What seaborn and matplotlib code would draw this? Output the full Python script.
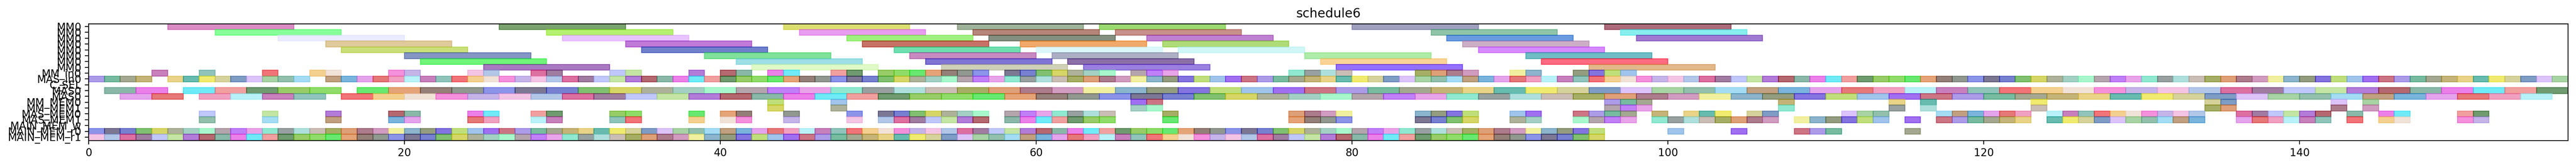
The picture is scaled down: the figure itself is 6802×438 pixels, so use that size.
import numpy as np
import pandas as pd
import matplotlib
matplotlib.use("Agg")
import matplotlib.pyplot as plt
import seaborn as sns
from matplotlib.colors import to_rgb

# ---------------- data ----------------
row_labels = ["MM0"] * 8 + ["MM_in0", "MAS_in0", "C_SEL", "MAS0", "MAS0",
                            "MM_MEM0", "MM_MEM1", "MAS_MEM0", "MAS_MEM1",
                            "MAIN_MEM_w", "MAIN_MEM_r0", "MAIN_MEM_r1"]

# MM0 rows: long operations (duration 8)
mm0_duration = 8
mm0_starts = [
    [5, 26, 44, 55, 64, 80, 96],
    [8, 29, 45, 56, 65, 85, 97],
    [12, 30, 48, 57, 67, 86, 98],
    [15, 34, 49, 59, 68, 87],
    [16, 35, 51, 60, 69, 88],
    [20, 39, 52, 61, 77, 91],
    [21, 41, 53, 62, 78, 92],
    [25, 42, 54, 63, 79, 95],
]
mm0_colors = [
    ["#d98cc4", "#7aa36f", "#dde070", "#9fb39a", "#9ad970", "#9f9fbf", "#ad6b7a"],
    ["#88ff99", "#b5f070", "#e89cf0", "#b5857a", "#c8908a", "#8fc4a8", "#88eeee"],
    ["#ececff", "#e8c4ff", "#a0f080", "#848f80", "#bf80d0", "#6b9be0", "#a07ad0"],
    ["#e0cb9c", "#c07ad8", "#c87264", "#f0aa6a", "#b0dc78", "#ccb0c8"],
    ["#cbdf7a", "#7080cc", "#70e0b0", "#dcf7fa", "#d0f6f8", "#d68aff"],
    ["#8595c4", "#80e29a", "#c78ac0", "#adb0c4", "#b0ecaa", "#70bfc4"],
    ["#70f57a", "#9de0e4", "#7f74d4", "#8b70a8", "#fcd496", "#ff6b80"],
    ["#a878c0", "#e0f9c8", "#cfd0b8", "#9a80e0", "#9470ff", "#e2b78a"],
]

# unit-length operations (duration 1)
mm_in0 = [4, 7, 11, 14, 15, 19, 20, 24, 25, 28, 29, 33, 34, 38, 40, 41, 43, 44,
          47, 48, 50, 51, 52, 53, 54, 55, 56, 58, 59, 60, 61, 62, 63, 64, 66, 67,
          68, 76, 77, 78, 79, 84, 85, 86, 87, 90, 91, 94, 95, 96, 97]
mas_in0_runs = [(0, 3), (5, 13), (15, 156)]          # consecutive occupied slots
c_sel = []
mm_mem0 = [43, 47, 66, 67, 96, 97, 98, 107, 114, 116, 123, 134, 135, 142, 144]
mm_mem1 = [43, 47, 66, 67, 96, 97, 98, 107, 114, 116, 123, 134, 135, 142, 144]
mas_mem0 = [7, 11, 15, 19, 20, 24, 25, 28, 29, 33, 34, 38, 40, 41, 44, 48, 50, 51,
            52, 53, 54, 55, 56, 58, 59, 60, 61, 62, 63, 64, 68, 76, 77, 78, 79, 84,
            85, 86, 87, 90, 91, 94, 95, 96, 97, 99, 101, 102, 103, 105, 106, 111,
            112, 113, 117, 118, 119, 120, 121, 122, 124, 125, 126, 127, 128, 129,
            130, 131, 132, 133, 136, 137, 138, 139, 140, 141, 143, 145, 146, 150, 151]
mas_mem1 = [7, 11, 15, 19, 20, 24, 25, 28, 29, 33, 34, 38, 40, 41, 44, 48, 50, 51,
            52, 53, 54, 55, 56, 58, 59, 60, 61, 62, 63, 64, 68, 76, 77, 78, 79, 84,
            85, 86, 87, 90, 91, 94, 95, 96, 97, 99, 100, 101, 102, 103, 104, 105,
            106, 108, 109, 110, 111, 112, 113, 115, 117, 118, 119, 120, 121, 122,
            124, 125, 126, 127, 128, 129, 130, 131, 132, 133, 136, 137, 138, 139,
            140, 141, 143, 145, 146, 150, 151]
main_mem_w = []
main_mem_r0_runs = [(0, 95), (100, 100), (104, 104), (108, 110), (115, 115)]
main_mem_r1_runs = [(0, 95)]

# MAS0 rows: operations of duration 2
mas0_duration = 2
mas0_a = [1, 3, 6, 8, 10, 12, 14, 17, 19, 21, 23, 25, 27, 29, 31, 33, 35, 37, 39,
          41, 43, 45, 47, 49, 51, 53, 55, 57, 59, 61, 63, 65, 67, 69, 71, 73, 75,
          77, 79, 81, 83, 85, 87, 89, 91, 93, 95, 97, 99, 101, 103, 105, 107, 109,
          111, 113, 115, 117, 119, 121, 123, 125, 127, 129, 131, 133, 135, 137,
          139, 141, 143, 145, 147, 149, 151, 153, 155]
mas0_b = [2, 4, 7, 9, 11, 13, 16, 18, 20, 22, 24, 26, 28, 30, 32, 34, 36, 38, 40,
          42, 44, 46, 48, 50, 52, 54, 56, 58, 60, 62, 64, 66, 68, 70, 72, 74, 76,
          78, 80, 82, 84, 86, 88, 90, 92, 94, 96, 98, 100, 102, 104, 106, 108, 110,
          112, 114, 116, 118, 120, 122, 124, 126, 128, 130, 132, 134, 136, 138,
          140, 142, 144, 146, 148, 150, 152, 154]

# colours of the short operations, as they appear on the chart
unit_palette = [
    "#b3c8e8", "#b0e0dc", "#f0a0c0", "#80c070", "#d6d29c", "#709a70", "#a0c4ec",
    "#dc70a0", "#cbbdb5", "#b8f2f7", "#d6d668", "#7f9cc4", "#98cc68", "#a070f0",
    "#a07ca0", "#a6ae64", "#c880bc", "#aeb39a", "#dcc4fa", "#90dc6a", "#cc7584",
    "#c0c8fa", "#dea078", "#90c4bc", "#a4d0c4", "#a8d4a4", "#68e870", "#ac9ce8",
    "#c4e6a4", "#ad7c8c", "#f27478", "#a8f8cc", "#92c0ac", "#e4a478", "#78bca0",
    "#b27cd8", "#d09cc0", "#f4d090", "#b4a4ac", "#a4dcf4", "#948078", "#a4a890",
    "#b46870", "#f2f0a0", "#f2e2d8", "#c080f8", "#c0a080", "#909890", "#c4b478",
    "#8ab8a8", "#8cb4cc", "#f490dc", "#e8a4e8", "#7ab4dc", "#8c94e8", "#e8d488",
    "#ec80e8", "#949c80", "#c4b4e8", "#90e8d0", "#e4a4ec", "#7c7894", "#68bcb0",
    "#70eaf8", "#8474e0", "#f4c4e4", "#98a0a0", "#e67878", "#7880d0", "#f0ec70",
    "#f2a0a0", "#c0e07c",
]

ALPHA = 0.6


def expand(runs):
    out = []
    for a, b in runs:
        out.extend(range(a, b + 1))
    return out


def base_color(hex_seen):
    # colour that, drawn with ALPHA over white, looks like hex_seen
    rgb = np.array(to_rgb(hex_seen))
    return tuple(np.clip((rgb - (1 - ALPHA)) / ALPHA, 0, 1))


# ---------------- build table ----------------
records = []
for r, (starts, cols) in enumerate(zip(mm0_starts, mm0_colors)):
    for s, c in zip(starts, cols):
        records.append((r, s, mm0_duration, c))

short_rows = {
    8: (mm_in0, 1), 9: (expand(mas_in0_runs), 1), 10: (c_sel, 1),
    11: (mas0_a, mas0_duration), 12: (mas0_b, mas0_duration),
    13: (mm_mem0, 1), 14: (mm_mem1, 1), 15: (mas_mem0, 1), 16: (mas_mem1, 1),
    17: (main_mem_w, 1), 18: (expand(main_mem_r0_runs), 1),
    19: (expand(main_mem_r1_runs), 1),
}
P = len(unit_palette)
for r, (starts, dur) in short_rows.items():
    for j, s in enumerate(starts):
        records.append((r, s, dur, unit_palette[(r * 11 + j * 7) % P]))

df = pd.DataFrame(records, columns=["row", "start", "duration", "seen_color"])

# ---------------- plot ----------------
sns.set_style("ticks")
plt.rcParams.update({
    "font.family": ["DejaVu Sans"],
    "font.size": 10,
    "text.color": "black",
    "axes.labelcolor": "black",
    "axes.edgecolor": "black",
    "xtick.color": "black",
    "ytick.color": "black",
    "axes.linewidth": 0.8,
    "xtick.major.width": 0.8,
    "ytick.major.width": 0.8,
})

fig, ax = plt.subplots(figsize=(34.01, 2.19), dpi=200)
fig.subplots_adjust(left=234 / 6802, right=6781 / 6802,
                    top=1 - 63 / 438, bottom=1 - 371 / 438)

cols = [base_color(c) for c in df["seen_color"]]
ax.barh(y=df["row"], width=df["duration"], left=df["start"], height=1.0,
        color=cols, edgecolor=cols, linewidth=0.8, alpha=ALPHA, align="center")

ax.set_yticks(range(len(row_labels)))
ax.set_yticklabels(row_labels, fontsize=10)
ax.set_ylim(19.59, -0.46)
ax.set_xlim(0, 157)
ax.set_xticks([0, 20, 40, 60, 80, 100, 120, 140])
ax.tick_params(axis="x", labelsize=10)
ax.set_title("schedule6", fontsize=12)
for sp in ax.spines.values():
    sp.set_visible(True)
    sp.set_color("black")

fig.savefig("out.png", dpi=200)
